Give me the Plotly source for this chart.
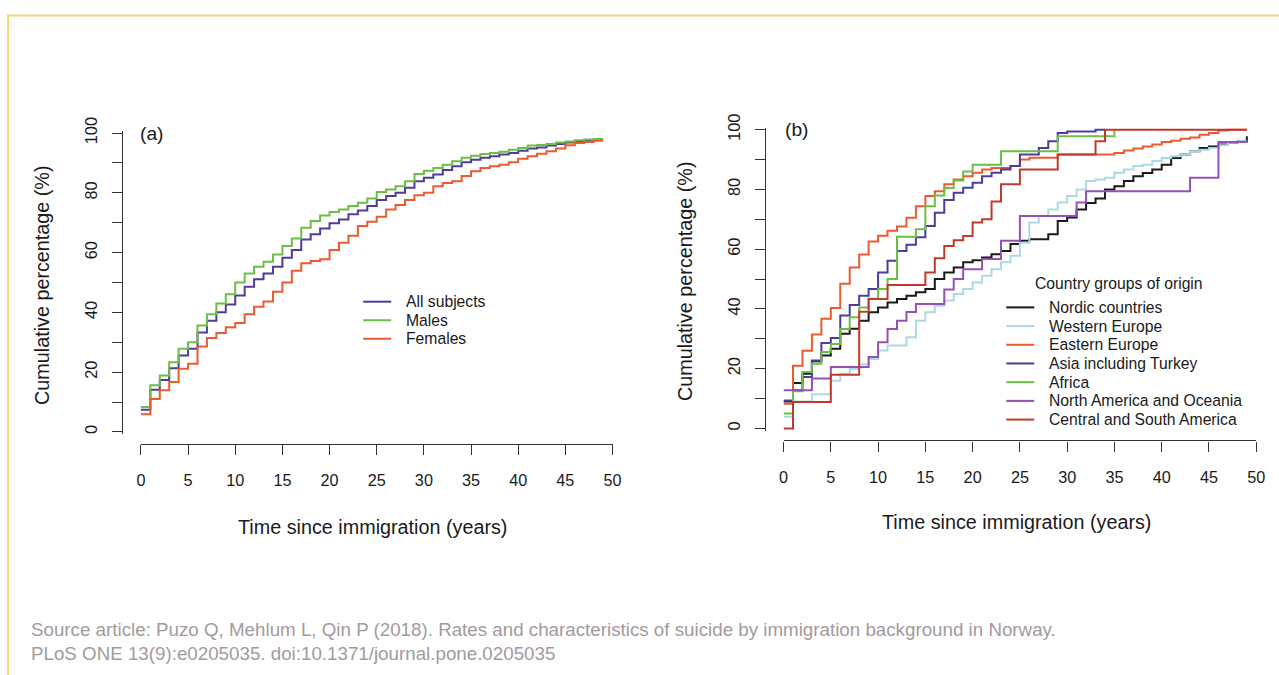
import plotly.graph_objects as go

# ---------------- data (cumulative %, level on [year, year+1)) ----------------
all_subjects = [7.4, 14.1, 17.4, 21.3, 25.6, 27.8, 33.3, 37.2, 40.0, 42.6,
                45.6, 48.6, 51.1, 53.0, 55.3, 58.3, 60.9, 64.4, 66.1, 68.1,
                69.8, 71.1, 72.8, 74.1, 75.6, 77.6, 78.9, 80.0, 81.7, 83.9,
                85.0, 86.1, 87.6, 88.9, 90.2, 91.1, 91.7, 92.2, 92.8, 93.3,
                94.1, 94.8, 95.2, 95.8, 96.3, 96.8, 97.1, 97.4, 97.7]
males = [8.3, 15.6, 18.9, 23.3, 27.8, 30.0, 35.6, 39.4, 43.0, 46.1,
         50.0, 53.0, 55.3, 56.9, 59.4, 62.2, 64.7, 68.3, 70.6, 72.4,
         73.6, 74.4, 75.6, 76.7, 78.1, 80.3, 81.1, 82.2, 83.9, 86.3,
         87.4, 88.3, 89.4, 90.6, 91.7, 92.4, 93.0, 93.3, 93.7, 94.4,
         95.0, 95.8, 96.0, 96.3, 96.8, 97.2, 97.6, 97.8, 98.0]
females = [5.9, 11.0, 13.9, 16.7, 21.1, 22.8, 28.6, 31.4, 33.1, 35.0,
           36.4, 39.4, 41.9, 43.6, 46.9, 50.0, 53.9, 56.4, 57.2, 57.8,
           60.9, 63.3, 65.6, 68.9, 70.3, 72.0, 74.4, 75.9, 77.6, 79.2,
           80.0, 82.2, 83.3, 83.9, 85.6, 87.2, 88.3, 88.9, 89.4, 90.2,
           91.4, 92.2, 93.1, 93.9, 94.8, 95.9, 96.7, 97.0, 97.4]

nordic = [9.0, 15.2, 18.3, 22.5, 24.4, 26.7, 31.7, 33.4, 36.1, 38.9,
          40.5, 42.2, 43.3, 44.4, 45.6, 46.7, 50.0, 52.2, 53.9, 55.6,
          56.3, 57.2, 58.3, 59.4, 61.7, 62.8, 63.3, 63.3, 65.0, 69.4,
          70.6, 73.3, 75.5, 77.0, 80.0, 81.1, 82.8, 84.4, 85.5, 86.7,
          88.3, 90.5, 91.7, 92.8, 93.9, 94.4, 95.0, 95.5, 96.0, 97.8]
western = [3.9, 9.0, 9.0, 11.5, 11.5, 16.0, 18.3, 20.0, 21.5, 23.3,
           26.1, 27.8, 27.8, 30.5, 36.1, 38.9, 41.1, 42.8, 45.0, 46.7,
           48.9, 51.1, 53.3, 55.6, 57.8, 62.2, 68.9, 71.1, 73.3, 75.6,
           77.8, 80.0, 82.8, 83.3, 83.9, 85.6, 86.7, 87.8, 88.3, 89.5,
           90.5, 91.1, 91.7, 92.8, 93.3, 93.9, 94.8, 95.6, 96.1]
eastern = [8.3, 21.0, 26.0, 31.5, 36.7, 40.3, 48.4, 53.9, 58.2, 62.6,
           64.5, 66.2, 67.6, 70.5, 74.4, 77.8, 79.4, 81.7, 83.3, 84.4,
           85.6, 86.7, 87.2, 87.2, 87.8, 90.0, 90.6, 90.6, 90.6, 91.7,
           91.7, 91.7, 91.7, 91.7, 91.7, 92.2, 93.0, 93.7, 94.4, 95.0,
           95.9, 96.3, 97.0, 97.4, 98.3, 98.9, 99.7, 100.0, 100.0]
asia = [9.4, 12.8, 17.2, 22.8, 28.6, 30.3, 37.8, 41.3, 44.4, 46.7,
        52.2, 56.1, 59.4, 61.5, 64.0, 67.8, 72.2, 76.5, 78.9, 80.6,
        82.2, 84.4, 85.6, 86.7, 87.8, 91.7, 91.7, 93.9, 96.1, 98.9,
        99.4, 99.4, 99.4, 100.0]
africa = [5.0, 12.5, 18.9, 21.7, 25.6, 28.3, 33.3, 37.2, 40.5, 43.4,
          46.7, 50.0, 64.2, 64.2, 66.7, 74.4, 78.0, 80.5, 83.0, 86.0,
          88.3, 88.3, 88.3, 92.8, 92.8, 92.8, 92.8, 92.8, 92.8, 97.8,
          97.8, 97.8, 97.8, 97.8, 97.8, 100.0]
n_america = [12.8, 12.8, 12.8, 16.7, 16.7, 20.6, 20.6, 20.6, 20.6, 23.9,
             28.9, 33.3, 36.1, 39.0, 41.7, 41.7, 41.7, 46.5, 50.0, 53.3,
             53.3, 56.7, 56.7, 62.8, 62.8, 71.1, 71.1, 71.1, 71.1, 71.1,
             71.1, 75.6, 79.4, 79.4, 79.4, 79.4, 79.4, 79.4, 79.4, 79.4,
             79.4, 79.4, 79.4, 83.9, 83.9, 83.9, 95.9, 95.9, 95.9]
c_s_america = [0.0, 8.9, 8.9, 8.9, 8.9, 18.0, 18.0, 18.0, 39.1, 43.3,
               43.3, 48.0, 48.0, 48.0, 48.0, 52.2, 57.0, 61.1, 63.0, 64.4,
               68.9, 70.0, 76.0, 81.7, 81.7, 86.7, 86.7, 86.7, 86.7, 91.7,
               91.7, 91.7, 91.7, 96.1, 100.0, 100.0, 100.0, 100.0, 100.0, 100.0,
               100.0, 100.0, 100.0, 100.0, 100.0, 100.0, 100.0, 100.0, 100.0]

names_a = ["All subjects", "Males", "Females"]
series_a = [all_subjects, males, females]
ends_a = [49, 49, 49]

names_b = ["Nordic countries", "Western Europe", "Eastern Europe",
           "Asia including Turkey", "Africa", "North America and Oceania",
           "Central and South America"]
series_b = [nordic, western, eastern, asia, africa, n_america, c_s_america]
ends_b = [49, 49, 49, 34, 35, 49, 49]

x_ticks = list(range(0, 51, 5))
y_ticks = list(range(0, 101, 10))
y_ticktext = [str(v) if v % 20 == 0 else "" for v in y_ticks]

# ---------------- styling ----------------
col_a = ["#4B3C9E", "#6DBE45", "#EE5A30"]
col_b = ["#1A1A1A", "#ADD8E6", "#EE5A30", "#4B3C9E", "#6DBE45", "#9550B3", "#C2392B"]

W, H = 1279, 675
FONT = "Liberation Sans, Arial, Helvetica, sans-serif"
AX = "#333333"
TXT = "#1a1a1a"

# compensation for the capture: target pixel -> figure pixel
SX, OX = 0.989, 4.8
SY, OY = 0.983, 12.2
FS = 1.014


def fx(px):
    return ((px - OX) / SX) / W


def fy(py):
    return 1 - ((py - OY) / SY) / H


def steps(vals, end):
    xs = list(range(len(vals)))
    ys = list(vals)
    if end > xs[-1]:
        xs.append(end)
        ys.append(vals[-1])
    return xs, ys


fig = go.Figure()
for name, vals, end, c in zip(names_a, series_a, ends_a, col_a):
    xs, ys = steps(vals, end)
    fig.add_trace(go.Scatter(x=xs, y=ys, mode="lines", line_shape="hv",
                             line=dict(color=c, width=2), name=name,
                             xaxis="x", yaxis="y", showlegend=False))
for name, vals, end, c in zip(names_b, series_b, ends_b, col_b):
    xs, ys = steps(vals, end)
    fig.add_trace(go.Scatter(x=xs, y=ys, mode="lines", line_shape="hv",
                             line=dict(color=c, width=2), name=name,
                             xaxis="x2", yaxis="y2", showlegend=False))

PAD = 0.7  # y-range padding in data units


def xaxis(x0px, x50px, ypos_px):
    return dict(domain=[fx(x0px), fx(x50px)], range=[0, 50], anchor="free",
                position=fy(ypos_px), tickvals=x_ticks, ticks="outside",
                ticklen=10, tickwidth=1.2, tickcolor=AX, showline=True,
                linecolor=AX, linewidth=1.2, showgrid=False, zeroline=False,
                ticklabelstandoff=12, fixedrange=True,
                tickfont=dict(family=FONT, size=16 * FS, color=TXT))


def yaxis(y0px, y100px, xpos_px):
    ppu = (y0px - y100px) / 100.0
    return dict(domain=[fy(y0px + PAD * ppu), fy(y100px - PAD * ppu)],
                range=[-PAD, 100 + PAD], anchor="free", position=fx(xpos_px),
                tickvals=y_ticks, ticktext=y_ticktext, ticks="outside",
                ticklen=10, tickwidth=1.2, tickcolor=AX, showline=True,
                linecolor=AX, linewidth=1.2, showgrid=False, zeroline=False,
                tickangle=-90, ticklabelstandoff=8, fixedrange=True,
                tickfont=dict(family=FONT, size=16 * FS, color=TXT))


ann = []
shapes = []


def text(x, y, s, size, color=TXT, angle=0, xanchor="center"):
    ann.append(dict(x=fx(x), y=fy(y), xref="paper", yref="paper", text=s,
                    showarrow=False, textangle=angle, xanchor=xanchor,
                    yanchor="middle", borderpad=0,
                    font=dict(family=FONT, size=size * FS, color=color)))


text(372, 527, "Time since immigration (years)", 19.5)
text(1016, 522, "Time since immigration (years)", 19.5)
text(42, 284, "Cumulative percentage (%)", 19.5, angle=-90)
text(685, 280, "Cumulative percentage (%)", 19.5, angle=-90)
text(152, 132, "(a)", 19)
text(797, 128, "(b)", 19)
text(30, 630, "Source article: Puzo Q, Mehlum L, Qin P (2018). Rates and characteristics of suicide by immigration background in Norway.",
     18.5, color="#A39A9E", xanchor="left")
text(30, 654, "PLoS ONE 13(9):e0205035. doi:10.1371/journal.pone.0205035",
     18.5, color="#A39A9E", xanchor="left")


def legend(names, colors, x_line0, x_line1, x_text, y_first, dy, title=None, title_xy=None):
    if title:
        text(title_xy[0], title_xy[1], title, 15.5)
    for i, (n, c) in enumerate(zip(names, colors)):
        yy = y_first + i * dy
        shapes.append(dict(type="line", xref="paper", yref="paper",
                           x0=fx(x_line0), x1=fx(x_line1), y0=fy(yy), y1=fy(yy),
                           line=dict(color=c, width=2)))
        text(x_text, yy, n, 15.5, xanchor="left")


legend(names_a, col_a, 363, 391, 405, 301, 18.6)
legend(names_b, col_b, 1006, 1034, 1048, 306.7, 18.77,
       title="Country groups of origin", title_xy=(1119, 283))

shapes.append(dict(type="rect", xref="paper", yref="paper",
                   x0=fx(8), x1=fx(1320), y0=fy(720), y1=min(fy(10), 1 - 1.5 / H),
                   line=dict(color="#FBD27B", width=2), fillcolor="rgba(0,0,0,0)",
                   layer="below"))

fig.update_layout(
    width=W, height=H, autosize=False,
    margin=dict(l=0, r=0, t=0, b=0, pad=0),
    paper_bgcolor="white", plot_bgcolor="rgba(0,0,0,0)",
    font=dict(family=FONT, size=15, color=TXT),
    xaxis=xaxis(140.7, 612.3, 443.7),
    yaxis=yaxis(431.7, 131.7, 121.8),
    xaxis2=xaxis(783.3, 1256.0, 440.3),
    yaxis2=yaxis(428.3, 128.3, 764.4),
    annotations=ann,
    shapes=shapes,
    showlegend=False,
)

post = ("var gd=document.getElementById('{plot_id}');"
        "var de=document.documentElement;de.style.margin='0';de.style.padding='0';de.style.overflow='hidden';"
        "document.body.style.margin='0';document.body.style.padding='0';document.body.style.overflow='hidden';"
        "gd.style.position='fixed';gd.style.left='0px';gd.style.top='0px';")

fig.write_html("out.html", config={"displayModeBar": False}, post_script=post)
